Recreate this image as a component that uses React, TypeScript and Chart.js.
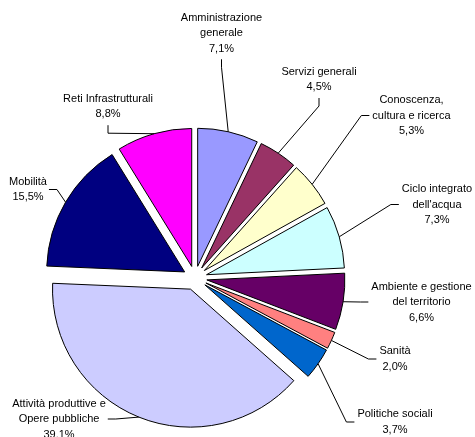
import React, { useEffect, useRef } from 'react';
import { Chart, registerables } from 'chart.js';

Chart.register(...registerables);

// ---- data ----
const categories: string[][] = [
  ['Amministrazione', 'generale'],
  ['Servizi generali'],
  ['Conoscenza,', 'cultura e ricerca'],
  ['Ciclo integrato', "dell'acqua"],
  ['Ambiente e gestione', 'del territorio'],
  ['Sanità'],
  ['Politiche sociali'],
  ['Attività produttive e', 'Opere pubbliche'],
  ['Mobilità'],
  ['Reti Infrastrutturali'],
];
const values: number[] = [7.1, 4.5, 5.3, 7.3, 6.6, 2.0, 3.7, 39.1, 15.5, 8.8];
const colors: string[] = [
  '#9999FF', '#993366', '#FFFFCC', '#CCFFFF', '#660066',
  '#FF8080', '#0066CC', '#CCCCFF', '#000080', '#FF00FF',
];

// ---- label layout (text block centre relative to pie centre; side the leader leaves from) ----
const labelLayout: { dx: number; dy: number; side: 'bottom' | 'left' | 'right' }[] = [
  { dx: 26.5, dy: -245, side: 'bottom' },
  { dx: 124, dy: -198.5, side: 'bottom' },
  { dx: 216.5, dy: -162.5, side: 'left' },
  { dx: 242, dy: -73.5, side: 'left' },
  { dx: 226.5, dy: 24, side: 'left' },
  { dx: 200, dy: 81, side: 'left' },
  { dx: 200, dy: 144, side: 'left' },
  { dx: -136, dy: 141, side: 'right' },
  { dx: -167, dy: -88.5, side: 'right' },
  { dx: -87, dy: -171.3, side: 'bottom' },
];

const EXPLODE = 12;
const LINE_H = 15.5;
const FONT = '11px "Liberation Sans", Arial, sans-serif';

const explodePlugin = {
  id: 'explode',
  beforeDatasetDraw(chart: any, args: any) {
    const ctx = chart.ctx;
    args.meta.data.forEach((arc: any) => {
      const mid = (arc.startAngle + arc.endAngle) / 2;
      ctx.save();
      ctx.translate(Math.cos(mid) * EXPLODE, Math.sin(mid) * EXPLODE);
      arc.draw(ctx);
      ctx.restore();
    });
    return false;
  },
};

const labelPlugin = {
  id: 'outLabels',
  afterDatasetsDraw(chart: any) {
    const meta = chart.getDatasetMeta(0);
    const ctx = chart.ctx;
    ctx.save();
    ctx.font = FONT;
    ctx.fillStyle = '#000';
    ctx.strokeStyle = '#000';
    ctx.lineWidth = 1;
    ctx.textAlign = 'center';
    ctx.textBaseline = 'middle';
    meta.data.forEach((arc: any, i: number) => {
      const { x, y, startAngle, endAngle, outerRadius } = arc;
      const mid = (startAngle + endAngle) / 2;
      const ax = x + Math.cos(mid) * (EXPLODE + outerRadius);
      const ay = y + Math.sin(mid) * (EXPLODE + outerRadius);
      const lines = [...categories[i], values[i].toFixed(1).replace('.', ',') + '%'];
      const lay = labelLayout[i];
      const lx = x + lay.dx;
      const ly = y + lay.dy;
      const n = lines.length;
      lines.forEach((t, k) => ctx.fillText(t, lx, ly + (k - (n - 1) / 2) * LINE_H));
      const w = Math.max(...lines.map((t) => ctx.measureText(t).width));
      let sx: number, sy: number, ex: number, ey: number;
      if (lay.side === 'bottom') {
        sx = lx; sy = ly + (n * LINE_H) / 2 + 3; ex = sx; ey = sy + 8;
      } else if (lay.side === 'left') {
        sx = lx - w / 2 - 3; sy = ly; ex = sx - 8; ey = sy;
      } else {
        sx = lx + w / 2 + 2; sy = ly; ex = sx + 8; ey = sy;
      }
      ctx.beginPath();
      ctx.moveTo(sx, sy);
      ctx.lineTo(ex, ey);
      ctx.lineTo(ax, ay);
      ctx.stroke();
    });
    ctx.restore();
  },
};

export default function App() {
  const ref = useRef<HTMLCanvasElement | null>(null);
  useEffect(() => {
    if (!ref.current) return;
    const chart = new Chart(ref.current, {
      type: 'pie',
      data: {
        labels: categories.map((c) => c.join(' ')),
        datasets: [
          {
            data: values,
            backgroundColor: colors,
            borderColor: '#000',
            borderWidth: 1,
            borderJoinStyle: 'miter',
            radius: 138,
          } as any,
        ],
      },
      options: {
        animation: false,
        responsive: false,
        events: [],
        layout: { padding: { left: 0, right: 85, top: 119, bottom: 0 } },
        plugins: { legend: { display: false }, tooltip: { enabled: false } },
      },
      plugins: [explodePlugin, labelPlugin],
    });
    return () => chart.destroy();
  }, []);
  return (
    <div style={{ position: 'absolute', left: 0, top: 0, width: 475, height: 437, background: '#fff' }}>
      <canvas ref={ref} width={475} height={437} />
    </div>
  );
}
